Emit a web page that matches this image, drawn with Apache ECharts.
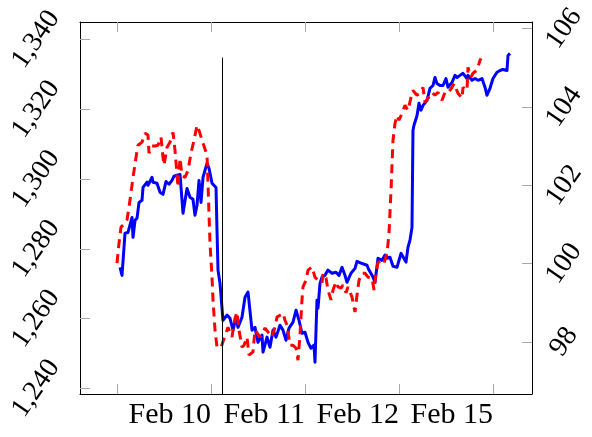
<!DOCTYPE html>
<html>
<head>
<meta charset="utf-8">
<title>Feb prices</title>
<script src="https://cdn.jsdelivr.net/npm/echarts@6/dist/echarts.min.js"></script>
<style>
  html, body { margin: 0; padding: 0; background: #fff; }
  #main { width: 592px; height: 437px; }
</style>
</head>
<body>
<div id="main"></div>
<script>
// x positions are hours since the first tick (one trading day = 24)
var xTicks = [0, 24, 48, 72, 96];
var xTickLabels = ['', 'Feb 10', 'Feb 11', 'Feb 12', 'Feb 15'];
var leftTicks = [1240, 1260, 1280, 1300, 1320, 1340];
var rightTicks = [98, 100, 102, 104, 106];

// blue, left axis
var blueX = [0.77, 1.28, 2.04, 2.81, 3.83, 4.09, 4.60, 5.11, 5.62, 6.38, 6.64, 7.66, 7.91, 8.94, 9.19, 10.21, 10.98, 11.74, 12.51, 13.28,
  14.04, 14.55, 15.32, 16.09, 16.60, 16.85, 17.87, 18.64, 19.40, 19.91, 20.43, 20.94, 21.45, 21.96, 22.98, 23.49, 24.26, 25.28, 25.53, 25.79,
  26.30, 26.81, 27.06, 28.09, 28.85, 29.62, 30.38, 30.89, 31.91, 32.68, 33.45, 34.47, 35.23, 36.00, 37.02, 37.28, 38.30, 39.06, 39.83, 40.60,
  41.62, 42.38, 43.15, 43.91, 44.94, 45.70, 46.47, 47.23, 48.00, 48.77, 49.53, 50.30, 50.55, 51.06, 51.32, 51.83, 52.34, 53.11, 53.87, 54.89,
  55.91, 56.68, 57.45, 58.21, 58.72, 59.74, 60.77, 61.28, 62.30, 62.81, 63.83, 64.34, 65.36, 65.87, 66.64, 67.66, 68.43, 68.94, 69.70, 70.47,
  71.49, 72.51, 73.02, 73.79, 74.30, 74.81, 75.32, 75.57, 75.83, 76.60, 77.11, 77.62, 78.13, 79.15, 79.91, 80.68, 81.19, 81.70, 82.47, 83.23,
  84.00, 84.51, 85.53, 86.30, 86.81, 87.57, 88.34, 89.36, 89.62, 90.64, 91.40, 92.17, 93.19, 93.96, 94.47, 95.23, 96.00, 97.02, 97.28, 97.79,
  98.55, 99.57, 99.83, 100.34];
var blueY = [1274.7, 1272.4, 1284.5, 1284.7, 1289.0, 1283.3, 1288.2, 1288.8, 1293.3, 1293.9, 1297.6, 1299.1, 1298.2, 1300.5, 1299.1, 1298.8, 1296.2, 1295.6, 1299.3, 1298.5,
  1299.6, 1300.8, 1301.1, 1301.3, 1301.6, 1290.2, 1297.3, 1294.8, 1294.2, 1289.6, 1292.5, 1299.6, 1293.3, 1300.5, 1304.5, 1303.1, 1298.8, 1297.6, 1285.3, 1273.9,
  1270.1, 1269.6, 1259.5, 1261.0, 1260.1, 1256.7, 1260.4, 1257.5, 1260.4, 1266.1, 1267.6, 1256.7, 1257.5, 1253.2, 1255.3, 1250.4, 1254.7, 1251.8, 1256.7, 1254.7,
  1258.1, 1256.7, 1253.8, 1257.3, 1259.0, 1262.4, 1259.5, 1255.8, 1256.1, 1253.2, 1251.5, 1252.4, 1247.5, 1265.3, 1263.0, 1270.1, 1271.9, 1272.4, 1273.9, 1273.0,
  1273.3, 1272.4, 1274.7, 1272.4, 1270.4, 1273.0, 1274.4, 1276.4, 1275.9, 1276.1, 1275.3, 1273.9, 1271.9, 1270.4, 1277.3, 1276.7, 1278.2, 1277.3, 1277.6, 1275.0,
  1274.7, 1278.7, 1278.2, 1276.2, 1280.5, 1282.5, 1286.2, 1313.9, 1315.4, 1318.2, 1321.7, 1319.7, 1321.1, 1322.5, 1326.0, 1326.8, 1329.1, 1327.4, 1326.8, 1326.8,
  1328.8, 1326.3, 1327.7, 1329.7, 1329.1, 1329.7, 1330.3, 1328.8, 1329.7, 1328.3, 1328.8, 1328.3, 1328.8, 1326.3, 1324.0, 1326.0, 1328.8, 1330.6, 1330.3, 1331.1,
  1331.4, 1331.1, 1335.4, 1336.0];

// red dashed, right axis
var redX = [0.00, 0.51, 1.02, 2.04, 2.55, 3.32, 4.09, 4.85, 5.36, 6.38, 7.15, 7.91, 8.17, 8.94, 9.70, 10.47, 11.23, 11.74, 12.00, 12.77,
  13.53, 14.30, 14.81, 15.06, 15.57, 16.09, 16.60, 17.36, 18.13, 18.89, 19.66, 20.43, 20.94, 21.96, 22.98, 23.23, 23.74, 24.26, 24.51, 25.02,
  25.53, 26.55, 27.83, 28.34, 29.36, 30.13, 30.64, 31.15, 31.91, 32.43, 33.19, 33.70, 34.72, 35.23, 36.51, 37.79, 38.55, 39.57, 40.34, 40.85,
  41.62, 42.38, 42.89, 43.40, 44.17, 44.94, 45.70, 46.21, 46.72, 47.23, 47.49, 48.26, 48.77, 49.79, 50.55, 51.32, 52.34, 52.60, 53.36, 53.87,
  54.64, 55.15, 55.91, 56.43, 57.19, 57.70, 58.47, 58.98, 60.00, 60.77, 61.28, 61.79, 62.55, 63.32, 64.09, 65.11, 65.62, 66.13, 66.64, 67.66,
  68.17, 68.94, 69.45, 69.96, 70.47, 70.98, 71.49, 72.00, 72.77, 73.53, 74.30, 75.32, 75.57, 76.60, 77.36, 78.13, 78.64, 79.40, 80.43, 81.19,
  81.96, 82.98, 83.74, 84.51, 85.53, 86.04, 87.06, 88.09, 88.34, 89.36, 89.62, 90.38, 90.89, 91.91, 92.68, 92.94];
var redY = [100.01, 100.52, 100.93, 101.03, 101.11, 101.62, 102.20, 102.71, 103.02, 103.10, 103.33, 103.28, 102.82, 103.00, 103.00, 103.02, 103.23, 102.71, 102.51, 102.97,
  103.10, 103.35, 102.89, 102.59, 101.95, 102.69, 102.25, 102.20, 102.38, 102.82, 103.15, 103.53, 103.40, 103.07, 102.77, 102.05, 100.52, 99.65, 99.07, 98.30,
  97.86, 97.86, 98.22, 98.37, 98.12, 98.60, 98.76, 98.30, 97.86, 97.91, 98.12, 97.66, 97.74, 98.30, 98.12, 98.35, 98.25, 98.12, 98.37, 98.63,
  98.68, 98.73, 98.55, 98.43, 97.91, 97.91, 97.84, 97.53, 98.17, 99.07, 99.40, 99.57, 99.83, 99.91, 99.65, 99.57, 99.50, 99.75, 99.63, 99.32,
  99.07, 99.32, 99.53, 99.40, 99.37, 99.45, 99.25, 99.40, 99.14, 98.76, 99.19, 99.57, 99.75, 99.75, 99.65, 99.63, 99.32, 99.75, 100.03, 100.08,
  100.01, 100.26, 100.77, 101.87, 103.15, 103.58, 103.78, 103.66, 103.83, 104.04, 103.91, 104.35, 104.42, 104.30, 104.35, 104.50, 104.12, 104.22, 104.37, 104.30,
  104.37, 104.17, 104.37, 104.35, 104.50, 104.60, 104.35, 104.22, 104.50, 104.42, 105.01, 104.76, 104.86, 104.94, 105.19, 105.24];

// vertical marker
var markerX = 26.8;
var markerTop = 1334.8;

function pairs(xs, ys) {
  return xs.map(function (x, i) { return [x, ys[i]]; });
}

var serif = '"Liberation Serif", "DejaVu Serif", serif';
var tickStyle = { show: true, inside: true, length: 10, lineStyle: { color: '#a8a8a8', width: 1 } };
var frame = { show: true, onZero: false, lineStyle: { color: '#000', width: 1 } };

var X_MIN = -9.45, X_MAX = 105.96;
var L_MIN = 1238.4, L_MAX = 1345.0;
var R_MIN = 96.665, R_MAX = 106.17;

var chart = echarts.init(document.getElementById('main'), null, { renderer: 'canvas' });
chart.setOption({
  animation: false,
  backgroundColor: '#fff',
  grid: { left: 80, right: 60, top: 22, bottom: 43, containLabel: false },
  xAxis: [{
    type: 'value', position: 'bottom', min: X_MIN, max: X_MAX,
    axisLine: frame, splitLine: { show: false },
    axisTick: Object.assign({ customValues: xTicks }, tickStyle),
    axisLabel: {
      customValues: xTicks.slice(1),
      formatter: function (v) { return xTickLabels[xTicks.indexOf(v)]; },
      align: 'right', margin: 6, color: '#000', fontSize: 30, fontFamily: serif
    }
  }, {
    type: 'value', position: 'top', min: X_MIN, max: X_MAX,
    axisLine: frame, splitLine: { show: false },
    axisTick: Object.assign({ customValues: xTicks }, tickStyle),
    axisLabel: { show: false }
  }],
  yAxis: [{
    type: 'value', position: 'left', min: L_MIN, max: L_MAX,
    axisLine: frame, splitLine: { show: false },
    axisTick: Object.assign({ customValues: leftTicks }, tickStyle),
    axisLabel: {
      customValues: leftTicks,
      formatter: function (v) { return String(v).replace(/^(\d)(\d{3})$/, '$1,$2'); },
      rotate: 55, align: 'center', verticalAlign: 'middle', margin: 44,
      color: '#000', fontSize: 28, fontFamily: serif
    }
  }, {
    type: 'value', position: 'right', min: R_MIN, max: R_MAX,
    axisLine: frame, splitLine: { show: false },
    axisTick: Object.assign({ customValues: rightTicks }, tickStyle),
    axisLabel: {
      customValues: rightTicks,
      rotate: 55, align: 'center', verticalAlign: 'middle', margin: 32,
      color: '#000', fontSize: 28, fontFamily: serif
    }
  }],
  series: [{
    type: 'line', name: 'left', xAxisIndex: 0, yAxisIndex: 0,
    data: pairs(blueX, blueY), showSymbol: false,
    lineStyle: { color: '#0000ff', width: 3, join: 'round' },
    markLine: {
      silent: true, symbol: 'none', animation: false,
      label: { show: false },
      lineStyle: { color: '#000', width: 1, type: 'solid' },
      data: [[{ coord: [markerX, L_MIN] }, { coord: [markerX, markerTop] }]]
    }
  }, {
    type: 'line', name: 'right', xAxisIndex: 0, yAxisIndex: 1,
    data: pairs(redX, redY), showSymbol: false,
    lineStyle: { color: '#ff0000', width: 3, type: [9, 6] }
  }]
});
</script>
</body>
</html>
